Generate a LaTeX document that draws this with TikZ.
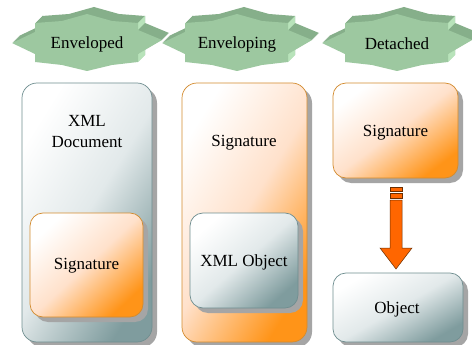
\documentclass[tikz,border=0pt]{standalone}
\usepackage{fontspec}
\setmainfont{Liberation Serif}
\newfontfamily\lserif{Liberation Serif}
\usetikzlibrary{shadows}
\definecolor{starfront}{HTML}{9DC8A0}
\definecolor{startop}{HTML}{86AF8A}
\definecolor{starside}{HTML}{B8E3BA}
\definecolor{grayedge}{HTML}{6F8E90}
\definecolor{graydark}{HTML}{7F9C9E}
\definecolor{graymid}{HTML}{E2E9EA}
\definecolor{orgedge}{HTML}{D38B2E}
\definecolor{orgdark}{HTML}{FF9418}
\definecolor{orgmid}{HTML}{FFE1CB}
\definecolor{arrowfill}{HTML}{FF6600}
\definecolor{arrowedge}{HTML}{6B2E00}
\definecolor{shadowc}{HTML}{A5A5A5}
\newcommand\mystarpath{(-75,0) -- (-52,-11) -- (-52,-20) -- (-25,-22) -- (0,-29) -- (25,-22) -- (51,-20) -- (51,-13) -- (75,-3) -- (51,11) -- (51,19) -- (25,22) -- (0,28) -- (-25,22) -- (-52,19) -- (-52,11) -- cycle}
\newcommand\mystar[3]{%
  \begin{scope}[shift={(#1,#2)}]
    \foreach \i in {7,6,...,1}{\fill[startop,shift={(\i,-\i)}] \mystarpath;}
    \fill[starside] (51,-20) -- (58,-27) -- (58,-20) -- (51,-13) -- cycle;
    \fill[starside] (51,11) -- (58,4) -- (58,12) -- (51,19) -- cycle;
    \fill[starfront] \mystarpath;
  \end{scope}
  \node[lbl] (#3) at (#1,#2+1) {\csname star#3\endcsname};
}
\begin{document}
\begin{tikzpicture}[x=1pt,y=-1pt,
  lbl/.style={font=\lserif\fontsize{17}{21}\selectfont, align=center, inner sep=0pt, text=black},
  shadowed/.style={drop shadow={shadow xshift=5pt, shadow yshift=-5pt, fill=shadowc, opacity=1}},
  graybox/.style 2 args={rounded corners=#1, draw=grayedge, line width=0.7pt, top color=white, bottom color=graydark, middle color=graymid, shading angle=#2, shadowed},
  orgbox/.style 2 args={rounded corners=#1, draw=orgedge, line width=0.7pt, top color=white, bottom color=orgdark, middle color=orgmid, shading angle=#2, shadowed},
  bigarrow/.style={fill=arrowfill, draw=arrowedge, line width=0.5pt, line join=miter}
]
\useasboundingbox (0,0) rectangle (472,345);
\fill[white] (0,0) rectangle (472,345);

% stars
\def\starEnveloped{Enveloped}
\def\starEnveloping{Enveloping}
\def\starDetached{Detached}
\mystar{87}{43}{Enveloped}
\mystar{237}{43}{Enveloping}
\mystar{397}{43}{Detached}

% Enveloped
\node[graybox={15pt}{58}, minimum width=130pt, minimum height=259pt] (doc) at (87,212.5) {};
\node[lbl] (doctext) at (87,132) {XML\\Document};
\node[orgbox={13pt}{43}, minimum width=113pt, minimum height=104pt] (sig1) at (86.5,265) {};
\node[lbl] (sig1text) at (86.5,266) {Signature};

% Enveloping
\node[orgbox={15pt}{58}, minimum width=125pt, minimum height=259pt] (sig2) at (244.5,212.5) {};
\node[lbl] (sig2text) at (244,143) {Signature};
\node[graybox={13pt}{41}, minimum width=108pt, minimum height=95pt] (obj2) at (244,260.5) {};
\node[lbl] (obj2text) at (244,262) {XML Object};

% Detached
\node[orgbox={13pt}{37}, minimum width=125pt, minimum height=95pt] (sig3) at (395.5,130.5) {};
\node[lbl] (sig3text) at (395.5,133) {Signature};
\node[graybox={13pt}{30}, minimum width=130pt, minimum height=69pt] (obj3) at (398,307.5) {};
\node[lbl] (obj3text) at (397,309) {Object};

% arrow
\coordinate (at) at (396,187);
\draw[bigarrow] ([xshift=-6pt]at) rectangle ++(12,4);
\draw[bigarrow] ([shift={(-6,6)}]at) rectangle ++(12,5);
\draw[bigarrow] ([shift={(-6,13)}]at) -- ++(12,0) -- ++(0,48) -- ++(10,0) -- ++(-16,21) -- ++(-16,-21) -- ++(10,0) -- cycle;
\end{tikzpicture}
\end{document}
